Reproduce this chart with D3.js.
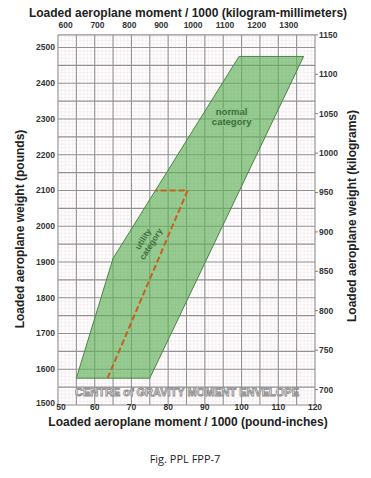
<!DOCTYPE html>
<html>
<head>
<meta charset="utf-8">
<script src="https://cdn.jsdelivr.net/npm/d3@7"></script>
<style>
  html, body { margin: 0; padding: 0; background: #fff; }
  svg { display: block; }
  .tick-label { font-family: "Liberation Sans", Arial, sans-serif; font-weight: bold; font-size: 8.5px; fill: #333; }
  .axis-title { font-family: "Liberation Sans", Arial, sans-serif; font-weight: bold; font-size: 12px; fill: #222; }
</style>
</head>
<body>
<svg id="chart" width="371" height="478"></svg>
<script>
// Axis tick values
const momentTicks = [50, 60, 70, 80, 90, 100, 110, 120];          // lb-in / 1000
const weightTicks = [1500, 1600, 1700, 1800, 1900, 2000, 2100, 2200, 2300, 2400, 2500]; // lb
const kgmmTicks = [600, 700, 800, 900, 1000, 1100, 1200, 1300];   // kg-mm / 1000
const kgTicks = [700, 750, 800, 850, 900, 950, 1000, 1050, 1100, 1150]; // kg

// Centre of gravity envelope (normal category)
const envelopeMoment = [55, 65, 99.3, 116.9, 75];
const envelopeWeight = [1575, 1910, 2475, 2475, 1575];

// Utility category boundary (dashed)
const utilityMoment = [63.5, 85.3, 76.5];
const utilityWeight = [1575, 2100, 2100];

const LB_PER_KG = 2.20462;
const KGMM_PER_LBIN = 11.521;

const svg = d3.select('#chart');

const x = d3.scaleLinear().domain([50, 120]).range([58, 315]);
const y = d3.scaleLinear().domain([1500, 2535]).range([405, 35]);
const yTop = 1150 * LB_PER_KG;

// Fine pink grid
const grid = svg.append('g');
grid.selectAll('line.minor-v')
  .data(d3.range(50, 120.01, 1))
  .join('line')
    .attr('x1', d => x(d)).attr('x2', d => x(d))
    .attr('y1', y(1500)).attr('y2', y(yTop))
    .attr('stroke', '#f4e6ea').attr('stroke-width', 0.6);
grid.selectAll('line.minor-h')
  .data(d3.range(1500, 2535, 10))
  .join('line')
    .attr('x1', x(50)).attr('x2', x(120))
    .attr('y1', d => y(d)).attr('y2', d => y(d))
    .attr('stroke', '#f4e6ea').attr('stroke-width', 0.6);

// Major grey grid
const major = svg.append('g');
major.selectAll('line.v')
  .data(d3.range(50, 120.01, 5))
  .join('line')
    .attr('x1', d => x(d)).attr('x2', d => x(d))
    .attr('y1', y(1500)).attr('y2', y(yTop))
    .attr('stroke', '#929292').attr('stroke-width', 1.1);
major.selectAll('line.h')
  .data(d3.range(1500, 2500.01, 50).concat([yTop]))
  .join('line')
    .attr('x1', x(50)).attr('x2', x(120))
    .attr('y1', d => y(d)).attr('y2', d => y(d))
    .attr('stroke', '#929292').attr('stroke-width', 1.1);

// Envelope
const line = d3.line().x(d => x(d[0])).y(d => y(d[1]));
const envelope = d3.zip(envelopeMoment, envelopeWeight);
svg.append('path')
  .attr('d', line(envelope) + 'Z')
  .attr('fill', '#5fb05a')
  .attr('fill-opacity', 0.66)
  .attr('stroke', '#4a8547')
  .attr('stroke-width', 1);

// Utility dashed line
svg.append('path')
  .attr('d', line(d3.zip(utilityMoment, utilityWeight)))
  .attr('fill', 'none')
  .attr('stroke', '#c8601c')
  .attr('stroke-width', 2)
  .attr('stroke-dasharray', '6,3');

// Category labels
const labelFont = '"Liberation Sans", Arial, sans-serif';
const normal = svg.append('text')
  .attr('x', x(97.3)).attr('y', y(2310))
  .attr('text-anchor', 'middle')
  .attr('font-family', labelFont).attr('font-weight', 'bold').attr('font-size', 9.5)
  .attr('fill', '#3f6f3d')
  .attr('stroke', '#8cc68a').attr('stroke-width', 3).attr('paint-order', 'stroke');
normal.append('tspan').attr('x', x(97.3)).attr('dy', 0).text('normal');
normal.append('tspan').attr('x', x(97.3)).attr('dy', 10).text('category');

const ux = x(73.8), uy = y(1960);
const utility = svg.append('text')
  .attr('transform', `translate(${ux},${uy}) rotate(-58)`)
  .attr('text-anchor', 'middle')
  .attr('font-family', labelFont).attr('font-weight', 'bold').attr('font-size', 8.5)
  .attr('fill', '#3f6f3d');
utility.append('tspan').attr('x', 0).attr('dy', 0).text('utility');
utility.append('tspan').attr('x', 0).attr('dy', 9.5).text('category');

// Bottom band text
svg.append('text')
  .attr('x', 75).attr('y', y(1526))
  .attr('textLength', 224).attr('lengthAdjust', 'spacingAndGlyphs')
  .attr('font-family', labelFont).attr('font-weight', 'bold').attr('font-size', 11.5)
  .attr('fill', '#ffffff').attr('stroke', '#8a8a8a').attr('stroke-width', 0.9)
  .text('CENTRE of GRAVITY MOMENT ENVELOPE');

// Left axis labels (lb)
svg.append('g').selectAll('text')
  .data(weightTicks)
  .join('text')
    .attr('class', 'tick-label')
    .attr('x', 55).attr('y', d => y(d))
    .attr('dy', d => d === 1500 ? '0.1em' : '0.35em')
    .attr('text-anchor', 'end')
    .text(d => d);

// Bottom axis labels (lb-in)
svg.append('g').selectAll('text')
  .data(momentTicks)
  .join('text')
    .attr('class', 'tick-label')
    .attr('x', d => x(d) + (d === 50 ? 3 : 0)).attr('y', y(1500) + 5)
    .attr('text-anchor', 'middle')
    .text(d => d);

// Top axis labels (kg-mm)
svg.append('g').selectAll('text')
  .data(kgmmTicks)
  .join('text')
    .attr('class', 'tick-label')
    .attr('x', d => x(d / KGMM_PER_LBIN)).attr('y', 28)
    .attr('text-anchor', 'middle')
    .text(d => d);

// Right axis (kg)
const right = svg.append('g');
right.selectAll('line')
  .data(kgTicks)
  .join('line')
    .attr('x1', x(120)).attr('x2', x(120) + 3)
    .attr('y1', d => y(d * LB_PER_KG)).attr('y2', d => y(d * LB_PER_KG))
    .attr('stroke', '#666').attr('stroke-width', 0.8);
right.selectAll('text')
  .data(kgTicks)
  .join('text')
    .attr('class', 'tick-label')
    .attr('x', x(120) + 4).attr('y', d => y(d * LB_PER_KG))
    .attr('dy', '0.35em')
    .text(d => d);

// Axis titles
svg.append('text').attr('class', 'axis-title')
  .attr('x', 188).attr('y', 17).attr('text-anchor', 'middle')
  .text('Loaded aeroplane moment / 1000 (kilogram-millimeters)');
svg.append('text').attr('class', 'axis-title')
  .attr('x', 188).attr('y', 426).attr('text-anchor', 'middle')
  .text('Loaded aeroplane moment / 1000 (pound-inches)');
svg.append('text').attr('class', 'axis-title')
  .attr('transform', 'translate(24,229) rotate(-90)').attr('text-anchor', 'middle')
  .text('Loaded aeroplane weight (pounds)');
svg.append('text').attr('class', 'axis-title')
  .attr('transform', 'translate(356,216) rotate(-90)').attr('text-anchor', 'middle')
  .text('Loaded aeroplane weight (kilograms)');

// Caption
svg.append('text')
  .attr('x', 185).attr('y', 463).attr('text-anchor', 'middle')
  .attr('font-family', '"Open Sans", "Liberation Sans", sans-serif').attr('font-size', 11)
  .attr('fill', '#222')
  .text('Fig. PPL FPP-7');
</script>
</body>
</html>
